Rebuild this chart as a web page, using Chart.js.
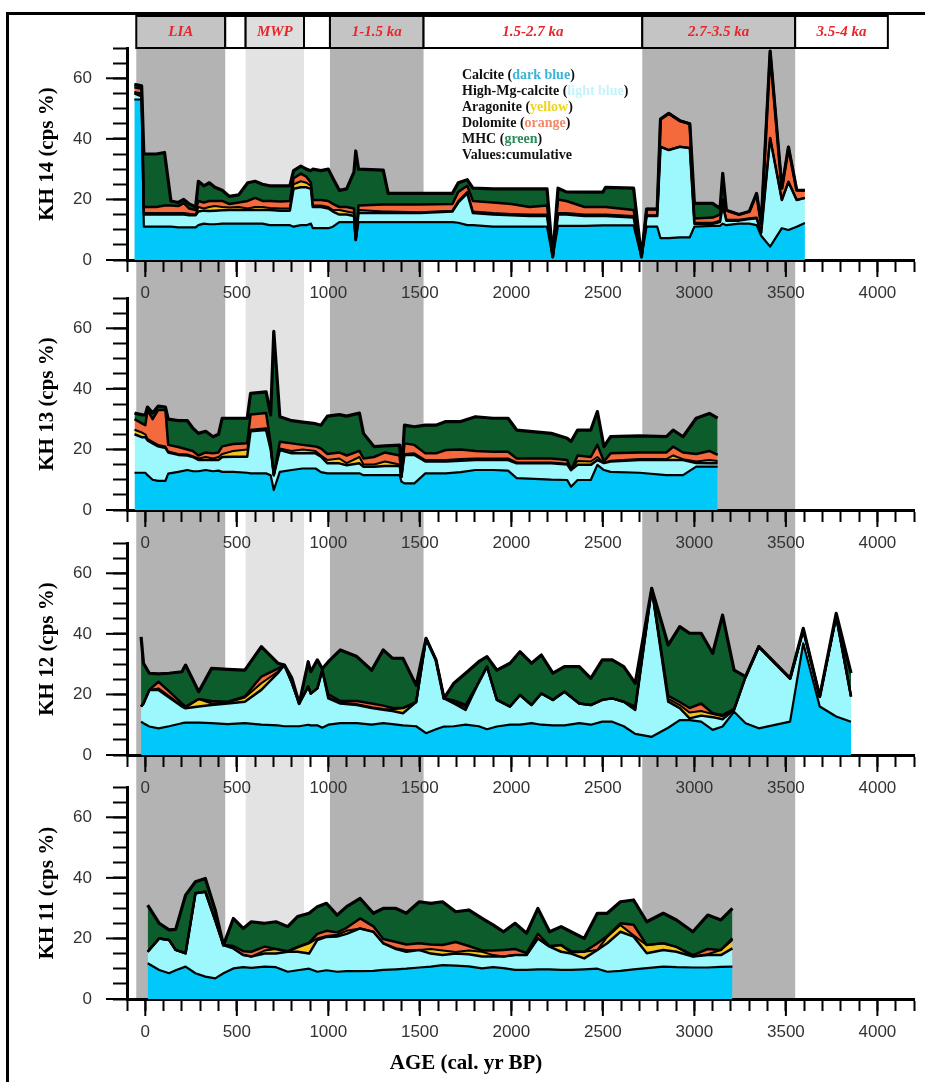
<!DOCTYPE html>
<html><head><meta charset="utf-8">
<script src="https://cdn.jsdelivr.net/npm/chart.js@4.4.1/dist/chart.umd.min.js"></script>
<style>
html,body{margin:0;padding:0;background:#fff;width:925px;height:1082px;overflow:hidden;position:relative;}
canvas{position:absolute;left:0;}
#frame{position:absolute;left:6px;top:12px;width:1000px;height:1200px;border-left:3px solid #000;border-top:3px solid #000;}
#legend{position:absolute;left:462px;top:67px;font:bold 14px 'Liberation Serif';line-height:16px;color:#111;white-space:nowrap;}
#xtitle{position:absolute;left:316px;top:1050px;width:300px;text-align:center;font:bold 21px 'Liberation Serif';color:#000;}
</style></head><body>
<canvas id="bg" width="925" height="1082" style="top:0"></canvas>
<canvas id="c14" width="925" height="310" style="top:0"></canvas>
<canvas id="c13" width="925" height="310" style="top:250px"></canvas>
<canvas id="c12" width="925" height="310" style="top:495px"></canvas>
<canvas id="c11" width="925" height="310" style="top:739px"></canvas>
<div id="frame"></div>
<div id="legend">
<div>Calcite (<span style="color:#3ab4d8">dark blue</span>)</div>
<div>High-Mg-calcite (<span style="color:#c6f3fb">light blue</span>)</div>
<div>Aragonite (<span style="color:#f0d41c">yellow</span>)</div>
<div>Dolomite (<span style="color:#f08a6a">orange</span>)</div>
<div>MHC (<span style="color:#2e8a5c">green</span>)</div>
<div>Values:cumulative</div>
</div>
<div id="xtitle">AGE (cal. yr BP)</div>
<script>
// ---- Periods ----
const periodEdges = [-50, 430, 540, 855, 995, 1500, 2680, 3505, 4005];
const periodLabels = ['LIA', '', 'MWP', '', '1-1.5 ka', '1.5-2.7 ka', '2.7-3.5 ka', '3.5-4 ka'];
const periodShade = ['dark', 'none', 'light', 'none', 'dark', 'none', 'dark', 'none'];

// ---- KH 14 (cumulative values, cps %) ----
const kh14Age = [-60,-20,-8,60,105,140,180,210,240,275,290,320,350,380,420,460,510,560,600,640,680,740,790,810,850,880,905,915,960,1000,1025,1060,1100,1140,1150,1165,1300,1327,1500,1678,1710,1759,1790,1900,2000,2100,2195,2226,2255,2300,2400,2500,2515,2668,2711,2739,2797,2815,2860,2920,2975,3000,3100,3140,3155,3175,3244,3300,3340,3365,3414,3478,3514,3559,3604];
const kh14Calcite = [53,53,11,11,11,11,10.8,10.8,10.8,10.8,11.5,12,11.8,11.8,12,12,12,12,12,12,11.5,11.5,11.5,11,11.5,11.5,12,10.5,10.5,10.5,11,12.5,12.5,12.5,6.6,12.5,12.5,12.5,12.5,12.5,12.3,11.5,11.5,11,11,11,11,1,11.3,11.3,11.3,11.4,11.4,11.4,1,11,11,7.2,7.2,7.5,7.5,11,11.3,11.3,12,11.5,12,12,11.5,8,4.4,10.5,9.9,11,12.2];
const kh14HighMg = [55,54,15,15,15,15,15,15,14.8,14.8,16,16.3,16.2,16.3,16.4,16.5,16.5,16.5,16.5,16.5,16.5,16.3,16.3,23.5,24,24,23.5,17.5,17.5,17,16,15,15,14.5,6.6,15.5,15.5,15.5,15.5,16,19,22,15.5,15,14.8,14.5,14.5,1,15,15,14.5,14.5,14.5,14,1,14.5,14.5,37.4,36.3,37.4,37,12,12,12.5,18,13,13,13.5,13.8,9,40.3,19.8,25.8,19.8,20.5];
const kh14Aragonite = [55.5,55,15.5,15.5,15.5,15.5,15.5,15.5,15.3,15,17.5,17,17.5,17.8,17.5,17.3,17.5,17,17.5,17.5,17.2,17,17,25,26,25.5,24.5,18,18,17.5,16.5,16.5,16,15.5,6.6,16.5,16,16,15.8,16.3,19.5,22.5,16,15.5,15.2,15,15,1,15.5,15.5,15,15,15,14.5,1,14.8,14.8,37.4,36.3,37.4,37,12.3,12.3,13,18.5,13.3,13.3,13.8,14,9,40.3,19.8,25.8,19.8,20.5];
const kh14Dolomite = [57,56.5,17.5,17.5,18,18,17.8,18.8,17,16.5,19.5,19,19.5,19.5,19.5,18.5,19,19.5,20.5,19.5,19.5,19.3,19.5,27,28.5,27.5,25.5,19.8,19.8,19.5,18.5,17.5,17.5,17,6.6,18,18.3,18.3,18.3,18.5,22.5,24.5,19.5,19,18.5,17.5,18,1,20,19.5,17.5,17.5,17.5,16.5,1,16.8,16.8,46.5,48.4,46,45,13.7,14,15,20,16.4,15,16,22,12,69,23.7,37.3,23.1,23];
const kh14MHC = [58,57.5,35,35,35.5,19.5,19,20,18.5,17.5,26,24.5,25.5,24,23,21,21.5,25.5,26,25,24.5,24.5,24.5,29.5,31,30,29.5,30,29.5,30,27,23,23.5,29,36,30,29.7,22,22,22,25.5,26.5,23.7,23.5,23.5,23.5,23.5,1,23.7,22.5,22.4,22.4,24,23.7,1,16.8,16.8,46.5,48.4,46,45,18.7,18.7,17,28.6,16.4,15,16,22,12,69,23.7,37.3,23.1,23];

// ---- KH 13 ----
const kh13Age = [-59,-16,0,12,40,70,110,125,180,230,260,290,330,370,400,420,480,557,575,660,685,702,735,800,860,930,960,995,1060,1100,1170,1192,1250,1310,1390,1399,1416,1470,1530,1588,1642,1723,1804,1900,1982,2029,2218,2305,2326,2362,2434,2470,2506,2542,2700,2847,2884,2938,3010,3082,3127];
const kh13Calcite = [12.3,12.3,12.3,11.5,10,9.6,9.6,12,12.6,13.2,12.8,12.8,13.2,12.8,13,12.6,12.6,12.3,12.1,12.1,11.5,6.6,12.6,13.2,13.7,13.7,12.5,12.1,12.1,12.1,12.1,11.5,11.5,11.5,11.5,9.4,8.8,8.8,12.1,12.1,12.1,12.5,13.2,13.2,13,10.5,10,9.9,7.7,9.9,9.9,14.9,13.2,12.6,12.3,11.5,11.5,11.5,14.3,14.3,14.3];
const kh13HighMg = [25,24,24,23,22,21,20.5,19,18.2,18,17.5,16.5,16.5,16.5,16.5,17.5,17.6,17.6,26,26.4,20,11.5,19.8,18.7,18.7,18.7,17.6,15.4,15.4,14.8,15.4,14.3,14.3,14.5,14.5,11,18.2,18.2,16,16,16,16.3,16.5,16.5,16.5,15.4,15.4,15,13.2,14.9,14.9,16.5,15.5,16,16.5,16.5,16.5,16.5,15.5,15.4,15.4];
const kh13Aragonite = [26.5,25.5,25,23.5,22.5,21.5,21,19.3,18.5,18.3,17.8,17,17.5,17,17.5,18.5,19.5,20,26.5,27,20.5,11.5,20.3,19.5,20,19.5,18,16.5,17,15.5,17.5,15,15,16,15,11,18.5,18.7,16.5,16.5,16.5,16.8,17,17,17,15.7,15.7,15.3,13.2,16.2,16,17.5,15.5,16.3,16.8,16.8,18,16.8,16,16.5,16.2];
const kh13Dolomite = [30,28.5,28,33,30,33,33,21.5,20.8,20,19.5,18,19,18.7,19,21,21.8,22,31.5,32,22,11.5,22.5,22,21.5,21,20.3,18.5,19,18,19.5,17,17.5,19,18,11,22,21.5,18.7,18.7,19.8,20,19.5,19.2,19.2,17,17,16.5,13.2,18,17.5,21.5,16,18.7,19,19,20.9,19,18.5,19.5,18.2];
const kh13MHC = [32,31.4,31.5,34,32,34.3,34,30,29.5,29.5,27,25.3,26,24.2,25,30.3,30.3,30.3,38.5,39,31.4,59,30.8,29.5,29,28.5,28,31,31.5,31,32,25.3,20.9,21.2,21.4,11,28,27.5,28,28,29.2,29.2,30.8,30.3,30.3,26.4,25.3,23.7,22.6,26.4,26.4,32.5,20.9,24.2,24.5,24.2,26.4,24.2,30.3,31.9,30.3];

// ---- KH 12 ----
const kh12Age = [-23,-10,22,72,130,200,220,292,362,450,544,634,724,760,800,841,890,904,940,967,1000,1066,1156,1237,1300,1350,1408,1480,1534,1588,1632,1686,1750,1822,1867,1921,1993,2047,2110,2164,2227,2290,2371,2434,2497,2551,2614,2677,2767,2857,2920,2974,3037,3100,3154,3217,3280,3352,3523,3595,3685,3775,3856];
const kh12Calcite = [11,10.5,9.4,8.8,9.5,10.5,10.7,10.7,10.5,10.2,10.5,10,9.8,9.5,9.5,9.5,10,9.8,9.8,9,10,10.5,10.5,10,10.5,10.2,9.8,9.5,7.2,8.5,9.4,9.5,10,9.5,8.5,9.4,10,10,10.5,10,9.8,9.8,10.5,10,11,11,9.5,7,6,9,11.5,11.5,11,8.3,9.4,14.3,10.5,8.8,11,36.9,16,12.7,11];
const kh12HighMg = [16,17,21.5,21.5,19,16,15.4,16,16.5,17,17.6,21.5,27,29.7,24,17,22.6,20.3,22,28,18.7,17,16.5,15.5,14.9,14.5,13.8,17.5,38.5,31.4,18.7,17,14.9,24,29.2,18.2,16,19.8,16.5,20.3,18.2,20.9,17,16.5,18.2,18.7,17.6,14.9,55,17.6,15.5,12.1,13,12.5,11.8,14.9,25.9,35.8,25.3,41.3,19.3,45.7,19.3];
const kh12Aragonite = [16,17,21.5,22,19.5,16.2,15.6,18.5,17,17.3,19,23.7,27.5,29.7,24,17,22.6,20.3,22,28,19,17.3,16.8,15.8,15.2,15,15.5,17.5,38.5,31.4,18.7,17.3,15.8,24,29.2,18.2,16,19.8,16.5,20.3,18.2,20.9,17,16.5,18.2,18.7,17.6,15.2,55,18.5,16.5,14,14.5,13.5,12.8,14.9,25.9,35.8,25.3,41.3,19.3,45.7,19.3];
const kh12Dolomite = [16,17,21.5,24.2,21,17,16,18.5,17.8,17.6,19.3,25.9,28.5,29.7,24,17,22.6,20.3,22,28,20,17.8,17.8,17,16.3,15.5,15.5,17.5,38.5,31.4,18.7,18,16.5,24,29.2,18.2,16,19.8,16.5,20.3,18.2,20.9,17,16.5,18.2,18.7,17.6,16,55,19.5,17.5,15.5,17,13.8,13.2,15.2,25.9,35.8,25.3,41.3,19.3,45.7,19.3];
const kh12MHC = [39,30.3,27,26.8,27,27.5,29.7,20.9,28.6,28.3,28,35.8,30.3,29.7,25.5,17,30.8,27.5,31.4,28.5,30.8,34.7,32.5,28,34.7,32,31.9,23,38.5,31.4,18.7,23.7,27,30.8,32.5,28,30.3,34.1,30.3,33,27,29.2,29.2,25.3,31.4,31.4,29.2,23.7,55,36.3,42.4,40.2,40.2,33.6,46.2,28,25.9,35.8,25.3,41.8,19.3,46.8,27];

// ---- KH 11 ----
const kh11Age = [13,76,130,166,220,274,328,382,427,481,535,579,652,714,778,832,895,940,990,1048,1100,1174,1246,1300,1370,1426,1497,1560,1624,1696,1767,1840,1900,1957,2020,2083,2145,2209,2272,2326,2398,2470,2524,2596,2668,2740,2830,2902,2992,3073,3145,3208];
const kh11Calcite = [11.8,9.6,8.5,9.5,10.7,8.5,7.4,6.8,8.5,10.1,10.5,10.3,10.7,10.5,9,9.5,10,9,9.5,9,9.2,9.2,9.3,9.6,9.8,10,10.4,10.7,11.2,11,10.8,10.1,10.5,10.2,9.6,9.6,9.8,9.8,9.6,9.6,9.8,10,9,9.3,9.8,10.2,10.7,10.5,10.4,10.4,10.6,10.7];
const kh11HighMg = [15.6,20,19.5,16.2,15.1,34.9,35.4,26,17.8,16.7,14.5,14,15,15,15.6,15.6,15,19.5,20.5,20.6,21.5,23.3,22.2,18.4,16.5,15.6,16.2,15,14.5,15,14.8,14,14,14,14.5,14.5,20,17.3,15.6,15,13.4,16.2,18.4,22.2,20.6,15.1,16.2,15.6,14,14.5,14.5,16.7];
const kh11Aragonite = [15.6,20,19.5,16.2,15.1,34.9,35.4,26,17.8,16.7,14.5,14,16,16.5,15.6,17,18.4,20,20.8,21.2,22.5,23.3,22.2,18.4,16.8,16.2,16.2,16.5,16,15.5,16,15.6,14.5,14,14.5,14.5,20,17.3,17.8,15.3,15.6,16.2,20.5,24.4,21,17.8,18.4,17.2,14,14.8,16.2,19.5];
const kh11Dolomite = [15.6,20,19.5,16.2,15.1,34.9,35.4,26,17.8,17.5,15.8,15.6,17.3,16.5,15.8,17.2,18.6,21.5,22.5,22,23.5,26.6,24,19.8,18.8,18,18.4,18,17.8,18.8,17.5,16,16,16.2,16.5,15.2,21.5,17.5,17.8,15.8,15.6,18.4,20.8,25,24.5,17.8,18.4,17.2,14.5,16.5,16.2,20];
const kh11MHC = [31,25,22.8,23,34.3,38.7,39.8,29.4,17.8,26.6,23.3,25.5,25,25.5,23.9,27.2,28.3,30.5,31.6,27.7,30.5,33.2,28.3,29.9,29.9,28.3,32.1,31.6,32.1,28.8,29.4,26.6,24.5,22.2,25,21.7,29.9,22.2,23.9,22.2,20,28.3,28.3,32.1,32.7,25.5,28.3,26.1,22.2,27.7,26.1,29.9];

const COL = {calcite:'#00c8f8', hmc:'#9cf8fc', arag:'#f5c41c', dol:'#f46a3c', mhc:'#0d5c2b'};

// ---- Background: period bands + header strip ----
const bgPlugin = {
  id: 'periods',
  beforeDraw(chart) {
    const {ctx, chartArea: ca, scales: {x}} = chart;
    ctx.save();
    for (let i = 0; i < periodLabels.length; i++) {
      const x0 = x.getPixelForValue(periodEdges[i]);
      const x1 = x.getPixelForValue(periodEdges[i + 1]);
      const shade = periodShade[i];
      if (shade !== 'none') {
        ctx.fillStyle = shade === 'dark' ? '#b3b3b3' : '#e3e3e3';
        ctx.fillRect(x0, ca.top, x1 - x0, ca.bottom - ca.top);
      }
      ctx.fillStyle = shade === 'dark' ? '#c4c4c4' : shade === 'light' ? '#dedede' : '#ffffff';
      ctx.fillRect(x0, ca.top - 32, x1 - x0, 32);
      ctx.strokeStyle = '#000'; ctx.lineWidth = 2;
      ctx.strokeRect(x0, ca.top - 32, x1 - x0, 32);
      if (periodLabels[i]) {
        ctx.fillStyle = '#e8262b';
        ctx.font = 'italic bold 15px "Liberation Serif"';
        ctx.textAlign = 'center'; ctx.textBaseline = 'middle';
        ctx.fillText(periodLabels[i], (x0 + x1) / 2, ca.top - 16);
      }
    }
    ctx.restore();
  }
};

new Chart(document.getElementById('bg'), {
  type: 'line',
  data: {datasets: []},
  options: {
    responsive: false, animation: false, devicePixelRatio: 1,
    layout: {padding: {left: 127, right: 1, top: 48, bottom: 83}},
    plugins: {legend: {display: false}, tooltip: {enabled: false}},
    scales: {
      x: {type: 'linear', min: -100, max: 4200, display: false},
      y: {min: 0, max: 1, display: false}
    }
  },
  plugins: [bgPlugin]
});

// ---- Panels ----
const majorTicks = {
  id: 'majorTicks',
  afterDraw(chart) {
    const {ctx, chartArea: ca, scales: {x, y}} = chart;
    ctx.save();
    ctx.strokeStyle = '#000'; ctx.lineWidth = 2;
    x.ticks.forEach(t => {
      if (Math.round(t.value) % 500 === 0) {
        const px = x.getPixelForValue(t.value);
        ctx.beginPath(); ctx.moveTo(px, ca.bottom); ctx.lineTo(px, ca.bottom + 17); ctx.stroke();
      }
    });
    y.ticks.forEach(t => {
      if (Math.round(t.value) % 20 === 0) {
        const py = y.getPixelForValue(t.value);
        ctx.beginPath(); ctx.moveTo(ca.left - 21, py); ctx.lineTo(ca.left, py); ctx.stroke();
      }
    });
    ctx.restore();
  }
};

function layers(age, cal, hmc, ara, dol, mhc) {
  const pts = arr => age.map((a, i) => ({x: a, y: arr[i]}));
  return [
    {data: pts(cal), backgroundColor: COL.calcite, fill: 'origin', borderWidth: 2.2},
    {data: pts(hmc), backgroundColor: COL.hmc, fill: '-1', borderWidth: 2.5},
    {data: pts(ara), backgroundColor: COL.arag, fill: '-1', borderWidth: 2},
    {data: pts(dol), backgroundColor: COL.dol, fill: '-1', borderWidth: 2.5},
    {data: pts(mhc), backgroundColor: COL.mhc, fill: '-1', borderWidth: 3.2}
  ].map(d => Object.assign(d, {borderColor: '#000', pointRadius: 0, tension: 0, borderJoinStyle: 'round'}));
}

function makePanel(id, title, age, cal, hmc, ara, dol, mhc) {
  new Chart(document.getElementById(id), {
    type: 'line',
    data: {datasets: layers(age, cal, hmc, ara, dol, mhc)},
    options: {
      responsive: false, animation: false, devicePixelRatio: 1,
      layout: {padding: {top: 48, right: 1, left: 0, bottom: 0}},
      plugins: {legend: {display: false}, tooltip: {enabled: false},
                filler: {drawTime: 'beforeDatasetsDraw', propagate: false}},
      scales: {
        x: {
          type: 'linear', min: -100, max: 4200,
          afterFit: s => { s.height = 50; },
          border: {display: true, color: '#000', width: 3},
          grid: {display: true, drawOnChartArea: false, drawTicks: true, tickLength: 12, tickWidth: 2, tickColor: '#000'},
          ticks: {stepSize: 100, maxTicksLimit: 100, autoSkip: false, maxRotation: 0, minRotation: 0, padding: 11,
                  color: '#333', font: {family: 'Liberation Sans', size: 17},
                  callback: v => Math.round(v) % 500 === 0 ? String(Math.round(v)) : ''}
        },
        y: {
          min: 0, max: 70,
          afterFit: s => { s.width = 127; },
          border: {display: true, color: '#000', width: 3},
          grid: {display: true, drawOnChartArea: false, drawTicks: true, tickLength: 14, tickWidth: 2, tickColor: '#000'},
          ticks: {stepSize: 5, maxTicksLimit: 100, autoSkip: false, padding: 21,
                  color: '#333', font: {family: 'Liberation Sans', size: 17},
                  callback: v => Math.round(v) % 20 === 0 ? String(Math.round(v)) : ''},
          title: {display: true, text: title, color: '#000',
                  font: {family: 'Liberation Serif', size: 21, weight: 'bold'},
                  padding: {top: 35, bottom: 0}}
        }
      }
    },
    plugins: [majorTicks]
  });
}

makePanel('c14', 'KH 14 (cps %)', kh14Age, kh14Calcite, kh14HighMg, kh14Aragonite, kh14Dolomite, kh14MHC);
makePanel('c13', 'KH 13 (cps %)', kh13Age, kh13Calcite, kh13HighMg, kh13Aragonite, kh13Dolomite, kh13MHC);
makePanel('c12', 'KH 12 (cps %)', kh12Age, kh12Calcite, kh12HighMg, kh12Aragonite, kh12Dolomite, kh12MHC);
makePanel('c11', 'KH 11 (cps %)', kh11Age, kh11Calcite, kh11HighMg, kh11Aragonite, kh11Dolomite, kh11MHC);
</script>
</body></html>
